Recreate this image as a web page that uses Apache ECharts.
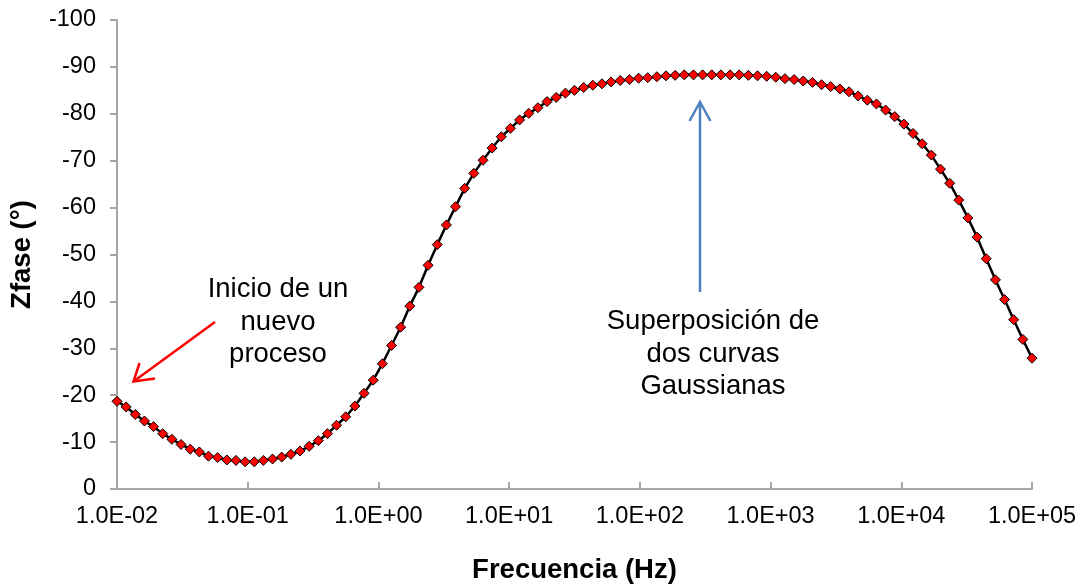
<!DOCTYPE html>
<html>
<head>
<meta charset="utf-8">
<script src="https://cdn.jsdelivr.net/npm/echarts@6/dist/echarts.min.js"></script>
<style>
  html, body { margin: 0; padding: 0; background: #fff; }
  #chart { width: 1083px; height: 584px; }
</style>
</head>
<body>
<div id="chart"></div>
<script>
// frecuencia (Hz), 101 puntos
const freq = [
  0.01, 0.01175, 0.0138, 0.01622, 0.01905, 0.02239, 0.0263, 0.0309, 0.03631, 0.04266, 0.05012, 0.05888, 0.06918, 0.08128, 0.0955,
  0.1122, 0.1318, 0.1549, 0.182, 0.2138, 0.2512, 0.2951, 0.3467, 0.4074, 0.4786, 0.5623, 0.6607, 0.7762, 0.912,
  1.072, 1.259, 1.479, 1.738, 2.042, 2.399, 2.818, 3.311, 3.89, 4.571, 5.37, 6.31, 7.413, 8.71,
  10.23, 12.02, 14.13, 16.6, 19.5, 22.91, 26.92, 31.62, 37.15, 43.65, 51.29, 60.26, 70.79, 83.18, 97.72,
  114.8, 134.9, 158.5, 186.2, 218.8, 257, 302, 354.8, 416.9, 489.8, 575.4, 676.1, 794.3, 933.3,
  1096, 1288, 1514, 1778, 2089, 2455, 2884, 3388, 3981, 4677, 5495, 6457, 7586, 8913,
  10470, 12300, 14450, 16980, 19950, 23440, 27540, 32360, 38020, 44670, 52480, 61660, 72440, 85110, 100000
]

// fase de Z (grados)
const zfase = [
  -18.7, -17.5, -15.9, -14.5, -13.3, -11.8, -10.6, -9.5, -8.5, -7.9, -7.0, -6.7, -6.2, -6.1, -5.8,
  -5.8, -6.1, -6.4, -6.8, -7.4, -8.1, -9.1, -10.3, -11.8, -13.6, -15.4, -17.7, -20.4, -23.2,
  -26.7, -30.6, -34.5, -39.0, -43.0, -47.7, -52.1, -56.3, -60.2, -64.1, -67.3, -70.1, -72.7, -75.1,
  -76.9, -78.7, -80.1, -81.3, -82.6, -83.5, -84.4, -85.0, -85.6, -86.1, -86.4, -86.8, -87.1, -87.3, -87.6,
  -87.7, -87.9, -88.1, -88.2, -88.3, -88.3, -88.3, -88.3, -88.3, -88.3, -88.3, -88.2, -88.1, -88.0,
  -87.8, -87.5, -87.3, -87.0, -86.7, -86.2, -85.8, -85.3, -84.7, -83.8, -82.9, -82.1, -80.8, -79.4,
  -77.8, -75.8, -73.6, -71.2, -68.2, -65.2, -61.6, -57.8, -53.7, -49.1, -44.6, -40.4, -36.1, -31.9, -27.9
]

const font = '"Liberation Sans", Arial, sans-serif'
const axisColor = '#a6a6a6'

function sciLabel(v) {
  const e = Math.round(Math.log10(v))
  return '1.0E' + (e < 0 ? '-' : '+') + String(Math.abs(e)).padStart(2, '0')
}

const chart = echarts.init(document.getElementById('chart'))
chart.setOption({
  animation: false,
  backgroundColor: '#fff',
  grid: {
    left: 117,
    right: 51,
    top: 20,
    bottom: 95,
    outerBoundsMode: 'none',
  },
  xAxis: {
    type: 'log',
    logBase: 10,
    min: 0.01,
    max: 100000,
    name: 'Frecuencia (Hz)',
    nameLocation: 'middle',
    nameGap: 67,
    nameTextStyle: {
      fontFamily: font,
      fontSize: 27.5,
      fontWeight: 'bold',
      color: '#000',
    },
    axisLine: {
      lineStyle: { color: axisColor, width: 2 },
    },
    axisTick: {
      inside: true,
      length: 7,
      lineStyle: { color: axisColor, width: 2 },
    },
    axisLabel: {
      formatter: sciLabel,
      margin: 16,
      fontFamily: font,
      fontSize: 23.5,
      color: '#000',
    },
    splitLine: { show: false },
    minorTick: { show: false },
  },
  yAxis: {
    type: 'value',
    inverse: true,
    min: -100,
    max: 0,
    interval: 10,
    name: 'Zfase (°)',
    nameLocation: 'middle',
    nameGap: 81,
    nameTextStyle: {
      fontFamily: font,
      fontSize: 27.5,
      fontWeight: 'bold',
      color: '#000',
    },
    axisLine: {
      show: true,
      lineStyle: { color: axisColor, width: 2 },
    },
    axisTick: {
      show: true,
      length: 7,
      lineStyle: { color: axisColor, width: 2 },
    },
    axisLabel: {
      margin: 21,
      fontFamily: font,
      fontSize: 23.5,
      color: '#000',
    },
    splitLine: { show: false },
  },
  series: [
    {
      type: 'line',
      data: freq.map((f, i) => [f, zfase[i]]),
      symbol: 'diamond',
      symbolSize: 10,
      lineStyle: { color: '#000', width: 2.5 },
      itemStyle: { color: '#ff0000', borderColor: '#000', borderWidth: 1 },
      z: 3,
    },
  ],
  graphic: [
    // flecha roja
    {
      type: 'line',
      shape: { x1: 215, y1: 322, x2: 133.5, y2: 381.5 },
      style: { stroke: '#ff0000', lineWidth: 2.5 },
    },
    {
      type: 'polyline',
      shape: { points: [[139.5, 363], [133.5, 381.5], [155, 378.5]] },
      style: { stroke: '#ff0000', lineWidth: 2.5, fill: null },
    },
    {
      type: 'text',
      style: {
        text: 'Inicio de un\nnuevo\nproceso',
        x: 278,
        y: 322,
        textAlign: 'center',
        textVerticalAlign: 'middle',
        fontFamily: font,
        fontSize: 27.5,
        lineHeight: 32.5,
        fill: '#000',
      },
    },
    // flecha azul
    {
      type: 'line',
      shape: { x1: 700, y1: 102, x2: 700, y2: 292 },
      style: { stroke: '#4f81bd', lineWidth: 2.5 },
    },
    {
      type: 'polyline',
      shape: { points: [[689.5, 121], [700, 102], [710.5, 121]] },
      style: { stroke: '#4f81bd', lineWidth: 2.5, fill: null },
    },
    {
      type: 'text',
      style: {
        text: 'Superposición de\ndos curvas\nGaussianas',
        x: 713,
        y: 354,
        textAlign: 'center',
        textVerticalAlign: 'middle',
        fontFamily: font,
        fontSize: 27.5,
        lineHeight: 32.5,
        fill: '#000',
      },
    },
  ],
})
</script>
</body>
</html>
